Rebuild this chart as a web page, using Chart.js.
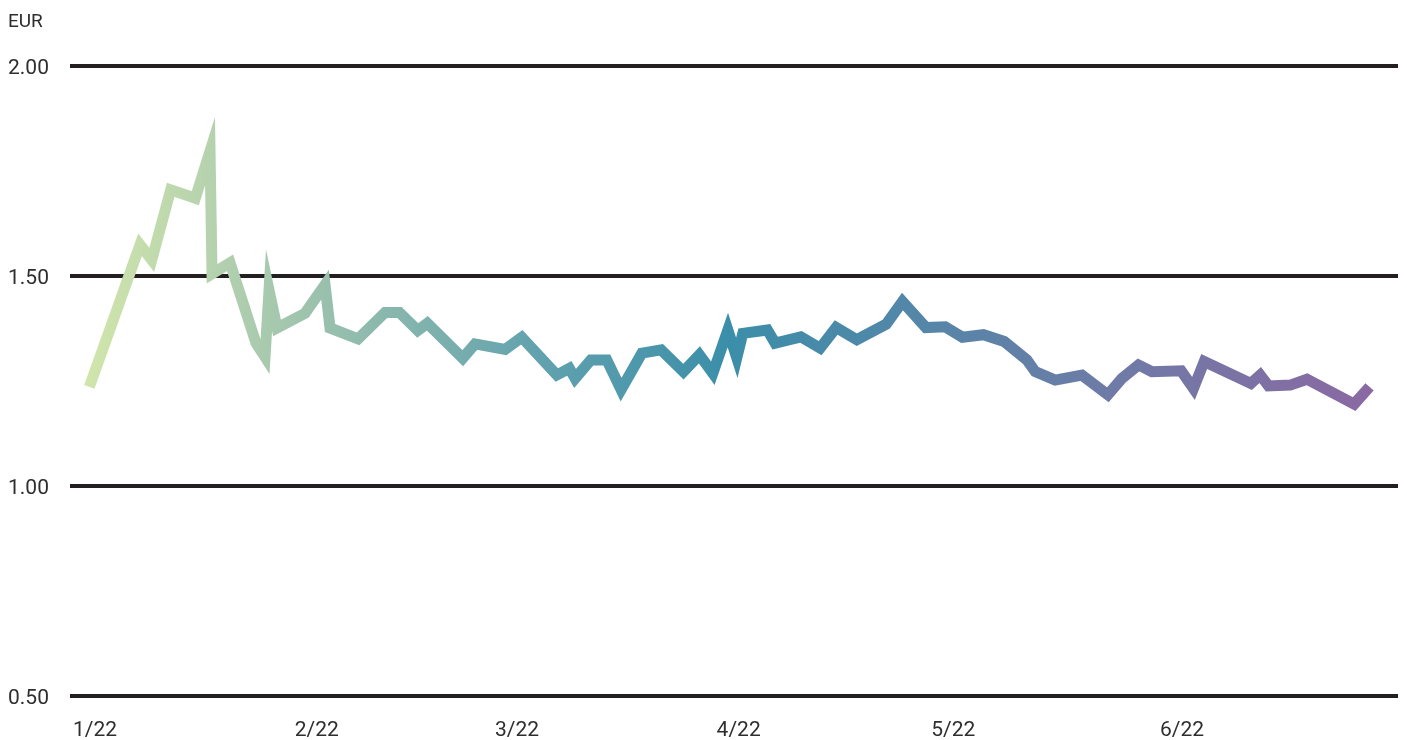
<!DOCTYPE html>
<html>
<head>
<meta charset="utf-8">
<script src="https://cdn.jsdelivr.net/npm/chart.js@4"></script>
<style>
  html, body { margin: 0; padding: 0; background: #fff; }
  #wrap { width: 1407px; height: 740px; }
</style>
</head>
<body>
<div id="wrap"><canvas id="priceChart"></canvas></div>
<script>
// ===== Data (x = days since 1 Jan 2022, y = price in EUR) =====
const dayOfYear = [
  2.70, 9.79, 11.43, 14.08, 17.52, 19.58, 19.86, 22.38, 26.01, 27.27,
  27.83, 28.95, 32.87, 35.66, 36.36, 40.28, 44.06, 46.06, 48.63, 49.97,
  54.92, 56.64, 60.84, 63.17, 68.07, 69.83, 70.63, 72.83, 75.06, 77.06,
  79.96, 82.66, 85.78, 88.01, 89.89, 91.99, 93.24, 94.08, 97.52, 98.60,
  102.20, 104.90, 107.13, 110.03, 114.13, 116.41, 119.68, 122.38, 124.80, 127.73,
  130.63, 133.80, 134.97, 137.76, 141.50, 145.13, 147.09, 149.41, 151.29, 155.38,
  157.10, 158.60, 165.13, 166.43, 167.59, 170.63, 172.97, 179.58, 181.72
];
const priceEur = [
  1.236, 1.574, 1.538, 1.705, 1.685, 1.797, 1.505, 1.531, 1.340, 1.307,
  1.466, 1.376, 1.411, 1.479, 1.376, 1.350, 1.413, 1.413, 1.370, 1.387,
  1.304, 1.338, 1.325, 1.354, 1.264, 1.280, 1.256, 1.300, 1.300, 1.229,
  1.316, 1.324, 1.272, 1.312, 1.268, 1.371, 1.305, 1.363, 1.371, 1.340,
  1.355, 1.328, 1.377, 1.348, 1.385, 1.439, 1.377, 1.379, 1.354, 1.360,
  1.344, 1.300, 1.272, 1.252, 1.264, 1.217, 1.256, 1.288, 1.272, 1.274,
  1.232, 1.296, 1.244, 1.264, 1.238, 1.240, 1.254, 1.195, 1.236
];
const monthStartDays = [0, 31, 59, 90, 120, 152];
const monthLabels = ['1/22', '2/22', '3/22', '4/22', '5/22', '6/22'];
const yTicks = [0.5, 1.0, 1.5, 2.0];

const points = dayOfYear.map((d, i) => ({ x: d, y: priceEur[i] }));

// ===== Gradient along the line =====
function lineGradient(context) {
  const chart = context.chart;
  if (!chart.chartArea) return '#3b8ea9';
  const xs = chart.scales.x;
  const x0 = xs.getPixelForValue(dayOfYear[0]);
  const x1 = xs.getPixelForValue(dayOfYear[dayOfYear.length - 1]);
  const g = chart.ctx.createLinearGradient(x0, 0, x1, 0);
  g.addColorStop(0, '#d0e5ac');
  g.addColorStop(0.1, '#b4d1ae');
  g.addColorStop(0.2, '#94bdad');
  g.addColorStop(0.35, '#62a2ae');
  g.addColorStop(0.5, '#3b8ea9');
  g.addColorStop(0.65, '#5586a8');
  g.addColorStop(0.8, '#6e7ba6');
  g.addColorStop(1, '#8a69a3');
  return g;
}

// let the sharp joins keep their spikes
const miterPlugin = {
  id: 'miter',
  beforeDatasetsDraw(chart) { chart.ctx.miterLimit = 30; },
  afterDatasetsDraw(chart) { chart.ctx.miterLimit = 10; }
};

const textColor = '#2e2e2e';
const fontFamily = 'Roboto, "Liberation Sans", sans-serif';

new Chart(document.getElementById('priceChart'), {
  type: 'line',
  data: {
    datasets: [{
      data: points,
      borderColor: lineGradient,
      borderWidth: 11,
      borderJoinStyle: 'miter',
      borderCapStyle: 'butt',
      pointRadius: 0,
      tension: 0,
      fill: false,
      clip: false
    }]
  },
  plugins: [miterPlugin],
  options: {
    responsive: true,
    maintainAspectRatio: false,
    animation: false,
    layout: { padding: { left: 8, right: 9, top: 0, bottom: 0 } },
    plugins: {
      legend: { display: false },
      tooltip: { enabled: false },
      title: {
        display: true,
        text: 'EUR',
        align: 'start',
        color: textColor,
        font: { family: fontFamily, size: 19, weight: 'normal' },
        padding: { top: 11, bottom: 32 }
      }
    },
    scales: {
      x: {
        type: 'linear',
        min: 0,
        max: 185.7,
        grid: { display: false, drawTicks: false },
        border: { display: false },
        afterBuildTicks: scale => {
          scale.ticks = monthStartDays.map(v => ({ value: v }));
        },
        afterFit: scale => { scale.height = 44; },
        ticks: {
          align: 'start',
          padding: 22,
          labelOffset: 3,
          maxRotation: 0,
          autoSkip: false,
          color: textColor,
          font: { family: fontFamily, size: 21 },
          callback: (value, index) => monthLabels[index]
        }
      },
      y: {
        min: 0.5,
        max: 2.0,
        afterBuildTicks: scale => {
          scale.ticks = yTicks.map(v => ({ value: v }));
        },
        afterFit: scale => { scale.width = 62; },
        grid: { color: '#231f20', lineWidth: 4, drawTicks: false },
        border: { display: false },
        ticks: {
          crossAlign: 'far',
          padding: 0,
          labelOffset: 3,
          color: textColor,
          font: { family: fontFamily, size: 21 },
          callback: v => v.toFixed(2)
        }
      }
    }
  }
});
</script>
</body>
</html>
